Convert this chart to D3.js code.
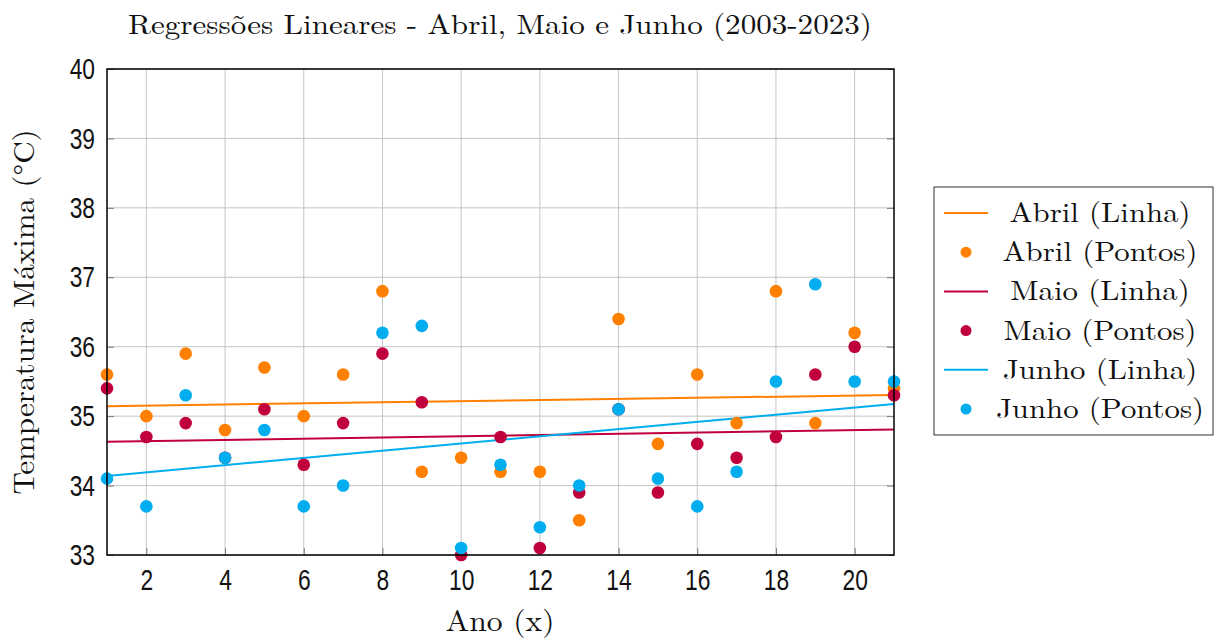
<!DOCTYPE html>
<html><head><meta charset="utf-8">
<script src="https://cdn.jsdelivr.net/npm/d3@7/dist/d3.min.js"></script>
<style>body{margin:0;background:#fff}</style>
</head><body>
<svg id="c" width="1214" height="638"></svg>
<script>
const years = d3.range(1, 22);
const abril = [35.6,35.0,35.9,34.8,35.7,35.0,35.6,36.8,34.2,34.4,34.2,34.2,33.5,36.4,34.6,35.6,34.9,36.8,34.9,36.2,35.4];
const maio  = [35.4,34.7,34.9,34.4,35.1,34.3,34.9,35.9,35.2,33.0,34.7,33.1,33.9,35.1,33.9,34.6,34.4,34.7,35.6,36.0,35.3];
const junho = [34.1,33.7,35.3,34.4,34.8,33.7,34.0,36.2,36.3,33.1,34.3,33.4,34.0,35.1,34.1,33.7,34.2,35.5,36.9,35.5,35.5];
const xTicks = [2,4,6,8,10,12,14,16,18,20];
const yTicks = [33,34,35,36,37,38,39,40];
const seriesNames = ["Abril","Maio","Junho"];
const colors = ["#ff8000","#c0003c","#00aeef"];

const svg = d3.select("#c");
const L=107,R=894,T=69,B=555;
const x = d3.scaleLinear().domain([1,21]).range([L,R]);
const y = d3.scaleLinear().domain([33,40]).range([B,T]);
const serif = "'Latin Modern Roman','CMU Serif','Liberation Serif',serif";
const sans = "'Liberation Sans',Arimo,sans-serif";
const SX = 0.76;

// grid
svg.append("g").selectAll("line").data(xTicks).join("line")
  .attr("x1",d=>x(d)).attr("x2",d=>x(d)).attr("y1",T).attr("y2",B)
  .attr("stroke","#c4c4c4").attr("stroke-width",1);
svg.append("g").selectAll("line").data(yTicks).join("line")
  .attr("y1",d=>y(d)).attr("y2",d=>y(d)).attr("x1",L).attr("x2",R)
  .attr("stroke","#c4c4c4").attr("stroke-width",1);

// axes with inner ticks
const gx = svg.append("g").attr("transform",`translate(0,${B})`)
  .call(d3.axisBottom(x).tickValues(xTicks).tickSizeInner(-7).tickSizeOuter(0).tickPadding(14).tickFormat(d3.format("d")));
const gy = svg.append("g").attr("transform",`translate(${L},0)`)
  .call(d3.axisLeft(y).tickValues(yTicks).tickSizeInner(-7).tickSizeOuter(0).tickPadding(12).tickFormat(d3.format("d")));
const gy2 = svg.append("g").attr("transform",`translate(${R},0)`)
  .call(d3.axisRight(y).tickValues(yTicks).tickSizeInner(-7).tickSizeOuter(0).tickFormat(""));
[gx,gy,gy2].forEach(g=>{
  g.select(".domain").remove();
  g.selectAll(".tick line").attr("stroke","#777").attr("stroke-width",1);
  g.selectAll("text").attr("font-family",sans).attr("font-size",30).attr("fill","#111");
});
gx.selectAll("text").attr("dy","0.71em").attr("transform",`scale(${SX},1)`);
gy.selectAll("text").attr("x",-12/SX).attr("transform",`scale(${SX},1)`);

// regression lines
const data = [abril,maio,junho];
const fits = data.map(v=>{
  const mx=d3.mean(years), my=d3.mean(v);
  const s=d3.sum(years,(xx,i)=>(xx-mx)*(v[i]-my))/d3.sum(years,xx=>(xx-mx)**2);
  return {a:my-s*mx,b:s};
});
fits.forEach((f,i)=>{
  svg.append("line").attr("x1",x(1)).attr("x2",x(21))
    .attr("y1",y(f.a+f.b*1)).attr("y2",y(f.a+f.b*21))
    .attr("stroke",colors[i]).attr("stroke-width",2);
});
// points
data.forEach((v,i)=>{
  svg.append("g").selectAll("circle").data(v).join("circle")
    .attr("cx",(d,j)=>x(years[j])).attr("cy",d=>y(d)).attr("r",6.3)
    .attr("fill",colors[i]);
});

// frame
svg.append("rect").attr("x",L).attr("y",T).attr("width",R-L).attr("height",B-T)
  .attr("fill","none").attr("stroke","#000").attr("stroke-width",1.5);

function stretch(sel, f){
  sel.each(function(){ const w=this.getComputedTextLength(); d3.select(this).attr("textLength",w*f).attr("lengthAdjust","spacingAndGlyphs"); });
}
// title & labels
stretch(svg.append("text").attr("x",500).attr("y",34).attr("text-anchor","middle")
  .attr("font-family",serif).attr("font-size",28).attr("fill","#111")
  .text("Regressões Lineares - Abril, Maio e Junho (2003-2023)"),1.11);
stretch(svg.append("text").attr("x",500).attr("y",631).attr("text-anchor","middle")
  .attr("font-family",serif).attr("font-size",29).attr("fill","#111").text("Ano (x)"),1.09);
stretch(svg.append("text").attr("transform","translate(34,312) rotate(-90)").attr("text-anchor","middle")
  .attr("font-family",serif).attr("font-size",29).attr("fill","#111").text("Temperatura Máxima (°C)"),1.07);

// legend
const lg = svg.append("g");
lg.append("rect").attr("x",934).attr("y",187).attr("width",279).attr("height",248)
  .attr("fill","#fff").attr("stroke","#333").attr("stroke-width",1);
const items = [];
seriesNames.forEach((n,i)=>{items.push({t:n+" (Linha)",c:colors[i],k:"line"});items.push({t:n+" (Pontos)",c:colors[i],k:"dot"});});
items.forEach((it,j)=>{
  const yy = 213 + j*39.2;
  if(it.k==="line") lg.append("line").attr("x1",944).attr("x2",988).attr("y1",yy).attr("y2",yy).attr("stroke",it.c).attr("stroke-width",2);
  else lg.append("circle").attr("cx",966).attr("cy",yy).attr("r",5.5).attr("fill",it.c);
  stretch(lg.append("text").attr("x",1100).attr("y",yy+9).attr("text-anchor","middle")
    .attr("font-family",serif).attr("font-size",28).attr("fill","#111").text(it.t),1.1);
});
</script>
</body></html>
